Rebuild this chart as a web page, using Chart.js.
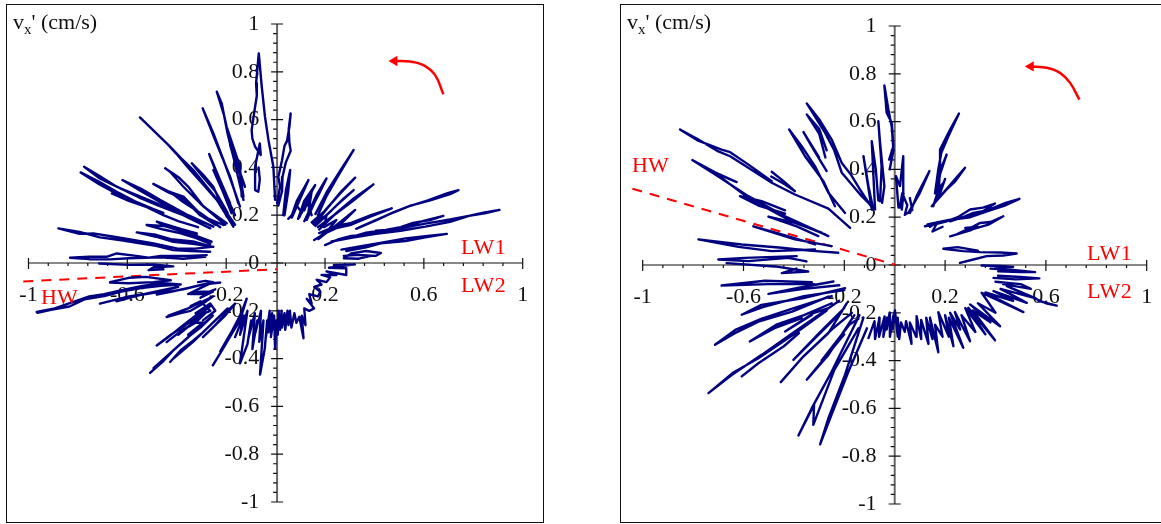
<!DOCTYPE html>
<html>
<head>
<meta charset="utf-8">
<script src="https://cdn.jsdelivr.net/npm/chart.js@4/dist/chart.umd.min.js"></script>
<style>
  html, body { margin: 0; padding: 0; background: #fff; overflow: hidden; }
  #page { position: relative; width: 1161px; height: 524px; overflow: hidden; }
  canvas { position: absolute; top: 0; }
  .box { position: absolute; top: 4px; height: 517px; border: 1.5px solid #111; box-sizing: content-box; }
  .note { position: absolute; font-family: "Liberation Serif", serif; font-size: 22px; line-height: 22px; color: #f00; white-space: nowrap; }
  .lw { letter-spacing: 0.6px; }
  .ylabel { position: absolute; font-family: "Liberation Serif", serif; font-size: 22px; line-height: 22px; color: #111; white-space: nowrap; }
  .ylabel sub { font-size: 15px; line-height: 0; }
</style>
</head>
<body>
<div id="page">
  <div class="box" style="left:6px;width:536px"></div>
  <div class="box" style="left:620px;width:600px"></div>
  <canvas id="left" width="580" height="524" style="left:0;width:580px;height:524px"></canvas>
  <canvas id="right" width="640" height="524" style="left:600px;width:640px;height:524px"></canvas>
  <div class="ylabel" style="left:13px;top:11px">v<sub>x</sub>' (cm/s)</div>
  <div class="ylabel" style="left:627px;top:11px">v<sub>x</sub>' (cm/s)</div>
  <div class="note lw" style="left:461px;top:236px">LW1</div>
  <div class="note lw" style="left:461px;top:274px">LW2</div>
  <div class="note" style="left:41px;top:286px">HW</div>
  <div class="note lw" style="left:1087px;top:242px">LW1</div>
  <div class="note lw" style="left:1087px;top:280px">LW2</div>
  <div class="note" style="left:632px;top:154px">HW</div>
</div>
<script>
// tick positions and labels
const xMajor = [-1, -0.6, -0.2, 0.2, 0.6, 1];
const xMinorStep = 0.08;
const yMajor = [-1, -0.8, -0.6, -0.4, -0.2, 0, 0.2, 0.4, 0.6, 0.8, 1];
const yMinorStep = 0.04;

// left panel, strands of the trace, each as [x, y] points
const strandsLeft = [
  [[.27,.03],[.33,.034],[.40,.03],[.42,.042],[.36,.05],[.30,.04],[.27,.02],[.33,.018],[.38,.03]],
  [[.26,.056],[.34,.07],[.44,.088],[.52,.103],[.60,.112],[.687,.122],[.60,.107],[.52,.092],[.42,.082],[.36,.066],[.28,.05]],
  [[.194,.075],[.25,.1],[.30,.113],[.36,.118],[.42,.13],[.50,.145],[.60,.165],[.70,.182],[.77,.196],[.84,.208],[.90,.222],[.84,.212],[.78,.198],[.70,.172],[.60,.152],[.50,.135],[.40,.122],[.30,.105],[.22,.09]],
  [[.29,.105],[.36,.127],[.44,.138],[.50,.15],[.55,.168],[.62,.18],[.673,.197],[.60,.178],[.54,.16],[.50,.143],[.40,.135]],
  [[.32,.143],[.40,.178],[.47,.212],[.54,.24],[.62,.262],[.70,.288],[.734,.305],[.69,.292],[.61,.262],[.53,.236],[.46,.207],[.39,.175],[.33,.148]],
  [[.17,.125],[.24,.155],[.30,.168],[.38,.2],[.464,.229],[.38,.195],[.30,.16],[.24,.146],[.18,.118]],
  [[.167,.1],[.21,.135],[.26,.175],[.316,.222],[.26,.166],[.2,.128],[.15,.096]],
  [[.17,.14],[.24,.21],[.31,.27],[.39,.329],[.31,.262],[.23,.2],[.165,.15]],
  [[.155,.155],[.21,.21],[.27,.27],[.31,.305],[.25,.25],[.2,.2],[.145,.165]],
  [[.15,.16],[.2,.225],[.26,.3],[.316,.357],[.25,.285],[.19,.215],[.14,.17]],
  [[.165,.2],[.2,.28],[.25,.37],[.31,.473],[.255,.385],[.2,.295],[.155,.205]],
  [[.12,.18],[.15,.25],[.17,.29],[.2,.354],[.16,.285],[.14,.24],[.11,.175]],
  [[.09,.19],[.125,.27],[.154,.326],[.11,.26],[.085,.185]],
  [[.06,.19],[.09,.26],[.127,.347],[.08,.26],[.06,.2],[.045,.185]],
  [[.03,.2],[.045,.3],[.053,.389],[.035,.3],[.025,.2]],
  [[.06,.2],[.08,.24],[.1,.21],[.12,.26],[.14,.2]],
  [[.11,.22],[.14,.3],[.125,.2]],
  [[.17,.17],[.2,.2],[.19,.15],[.24,.18],[.2,.13]],
  [[.0,.25],[.012,.32],[.005,.36],[.02,.43],[.03,.49],[.04,.51],[.05,.57],[.055,.626],[.047,.56],[.05,.5],[.055,.47],[.035,.42],[.022,.36],[.02,.3],[.005,.24]],
  [[-.008,.264],[-.015,.403],[-.035,.515],[-.049,.612],[-.062,.738],[-.074,.877],[-.085,.752],[-.082,.7],[-.089,.654],[-.103,.556],[-.1,.52],[-.089,.487],[-.066,.452],[-.07,.5],[-.089,.403],[-.089,.305],[-.076,.298],[-.07,.35],[-.075,.4]],
  [[-.13,.319],[-.16,.41],[-.19,.494],[-.17,.42],[-.15,.375],[-.136,.278]],
  [[-.136,.264],[-.177,.445],[-.2,.54],[-.224,.668],[-.244,.717],[-.215,.62],[-.204,.57],[-.15,.403],[-.143,.278]],
  [[-.15,.236],[-.185,.34],[-.217,.431],[-.258,.543],[-.301,.647],[-.251,.515],[-.19,.361],[-.157,.25]],
  [[-.19,.25],[-.231,.347],[-.275,.456],[-.224,.319],[-.19,.236]],
  [[-.184,.208],[-.22,.3],[-.258,.389],[-.204,.278],[-.17,.2]],
  [[-.177,.152],[-.244,.264],[-.3,.33],[-.352,.389],[-.41,.46],[-.447,.501],[-.555,.609],[-.433,.487],[-.39,.44],[-.339,.389],[-.231,.25],[-.17,.16]],
  [[-.204,.194],[-.258,.319],[-.3,.37],[-.345,.417],[-.3,.36],[-.25,.3],[-.2,.21]],
  [[-.204,.166],[-.298,.236],[-.36,.32],[-.4,.36],[-.453,.396],[-.433,.382],[-.38,.32],[-.312,.25],[-.21,.16]],
  [[-.258,.166],[-.32,.215],[-.379,.278],[-.44,.3],[-.501,.331],[-.44,.295],[-.379,.27],[-.31,.2],[-.25,.16]],
  [[-.217,.159],[-.312,.2],[-.37,.26],[-.433,.298],[-.38,.255],[-.312,.21],[-.23,.15]],
  [[-.258,.152],[-.36,.2],[-.474,.264],[-.55,.31],[-.626,.347],[-.55,.3],[-.474,.255],[-.36,.19],[-.27,.145]],
  [[-.298,.166],[-.4,.21],[-.487,.25],[-.57,.285],[-.649,.319],[-.72,.365],[-.781,.403],[-.72,.355],[-.636,.313],[-.56,.275],[-.48,.24],[-.38,.2],[-.3,.16]],
  [[-.32,.15],[-.4,.175],[-.46,.2],[-.55,.245],[-.649,.298],[-.72,.34],[-.795,.379],[-.72,.33],[-.649,.29],[-.58,.26],[-.5,.225],[-.46,.21]],
  [[-.669,.291],[-.6,.26],[-.53,.235],[-.47,.21]],
  [[-.325,.124],[-.38,.14],[-.487,.173],[-.44,.15],[-.38,.13],[-.325,.115]],
  [[-.27,.08],[-.33,.105],[-.393,.125],[-.46,.14],[-.528,.159],[-.46,.155],[-.393,.138],[-.33,.115],[-.265,.089]],
  [[-.258,.068],[-.34,.08],[-.42,.089],[-.49,.11],[-.568,.128],[-.49,.118],[-.43,.1],[-.34,.09],[-.265,.068]],
  [[-.271,.047],[-.35,.05],[-.42,.054],[-.49,.072],[-.555,.082],[-.63,.095],[-.717,.107],[-.8,.13],[-.885,.145],[-.8,.122],[-.744,.124],[-.66,.11],[-.582,.096],[-.5,.082],[-.406,.061],[-.33,.06],[-.265,.068]],
  [[-.285,.033],[-.36,.03],[-.42,.029],[-.47,.03],[-.52,.022],[-.57,.03],[-.649,.04],[-.69,.026],[-.76,.026],[-.838,.022],[-.76,.016],[-.676,.015],[-.6,.02],[-.474,.024],[-.38,.018],[-.291,.026]],
  [[-.72,-.002],[-.6,-.008],[-.5,-.006],[-.42,-.014],[-.5,-.018],[-.52,-.03],[-.46,-.026]],
  [[-.676,-.08],[-.6,-.062],[-.53,-.058],[-.43,-.072],[-.5,-.08],[-.6,-.085],[-.676,-.082]],
  [[-.973,-.205],[-.9,-.19],[-.83,-.165],[-.76,-.14],[-.7,-.13],[-.62,-.112],[-.54,-.095],[-.46,-.085],[-.39,-.09],[-.47,-.095],[-.55,-.105],[-.63,-.12],[-.7,-.138],[-.78,-.152],[-.84,-.182],[-.91,-.195],[-.97,-.208]],
  [[-.717,-.17],[-.66,-.155],[-.6,-.14],[-.54,-.13],[-.47,-.115],[-.4,-.1],[-.47,-.12],[-.56,-.135],[-.65,-.16]],
  [[-.487,-.132],[-.42,-.118],[-.34,-.1],[-.28,-.085],[-.23,-.082],[-.3,-.09],[-.38,-.11],[-.46,-.125]],
  [[-.32,-.08],[-.29,-.075],[-.26,-.08],[-.3,-.1],[-.36,-.13],[-.31,-.12],[-.26,-.12],[-.31,-.145]],
  [[-.35,-.13],[-.3,-.13],[-.25,-.11]],
  [[-.447,-.226],[-.39,-.21],[-.35,-.2],[-.3,-.17],[-.26,-.14],[-.3,-.16],[-.36,-.19],[-.44,-.22]],
  [[-.35,-.18],[-.31,-.16],[-.27,-.2],[-.34,-.23],[-.3,-.22],[-.35,-.25]],
  [[-.487,-.345],[-.43,-.3],[-.37,-.26],[-.33,-.23],[-.27,-.18],[-.33,-.22],[-.38,-.26],[-.44,-.31],[-.48,-.34]],
  [[-.447,-.331],[-.39,-.285],[-.33,-.25],[-.29,-.21],[-.35,-.26]],
  [[-.4,-.3],[-.34,-.25],[-.3,-.25],[-.36,-.3]],
  [[-.33,-.21],[-.27,-.17],[-.25,-.2],[-.3,-.24]],
  [[-.514,-.46],[-.46,-.41],[-.42,-.366],[-.36,-.31],[-.31,-.27],[-.26,-.22],[-.31,-.265],[-.37,-.32],[-.43,-.375],[-.5,-.44]],
  [[-.433,-.414],[-.39,-.365],[-.34,-.325],[-.3,-.29],[-.26,-.25],[-.2,-.19],[-.27,-.26],[-.34,-.33],[-.42,-.4]],
  [[-.26,-.428],[-.22,-.36],[-.18,-.29],[-.15,-.24],[-.123,-.149],[-.145,-.21],[-.18,-.28],[-.23,-.37]],
  [[-.3,-.31],[-.25,-.26],[-.2,-.2],[-.17,-.17],[-.21,-.22],[-.27,-.28]],
  [[-.17,-.31],[-.135,-.22],[-.15,-.3],[-.12,-.2],[-.15,-.42],[-.12,-.34],[-.105,-.24],[-.115,-.31],[-.09,-.21],[-.1,-.36],[-.08,-.24],[-.09,-.3],[-.065,-.2],[-.072,-.33],[-.055,-.24],[-.069,-.467],[-.05,-.36],[-.04,-.24],[-.045,-.31],[-.03,-.2],[-.034,-.29],[-.02,-.21],[-.025,-.31],[-.012,-.22],[-.008,-.36],[-.002,-.24],[.003,-.3],[.006,-.2],[.012,-.28],[.018,-.2],[.02,-.27],[.03,-.21],[.033,-.28],[.042,-.2],[.046,-.26],[.052,-.2],[.058,-.27],[.07,-.21],[.078,-.25],[.09,-.225],[.107,-.315],[.1,-.22],[.115,-.26],[.11,-.19],[.13,-.2],[.15,-.19],[.12,-.15],[.14,-.17],[.13,-.13],[.165,-.14],[.175,-.12],[.15,-.1],[.18,-.09],[.16,-.07],[.2,-.08],[.215,-.06],[.18,-.05],[.24,-.05],[.2,-.035],[.28,-.05],[.28,-.022],[.21,-.02],[.315,-.006],[.23,-.008]]
];

// right panel strands
const strandsRight = [
  [[.259,.009],[.3,.02],[.365,.037],[.43,.04],[.484,.048],[.42,.052],[.339,.054],[.272,.058],[.193,.068],[.25,.075],[.33,.06]],
  [[.259,.135],[.31,.15],[.372,.169],[.431,.204],[.38,.18],[.339,.176],[.3,.155],[.25,.13]],
  [[.22,.12],[.3,.145],[.33,.16],[.28,.155]],
  [[.12,.162],[.16,.17],[.206,.183],[.25,.2],[.299,.232],[.35,.24],[.398,.257],[.35,.225],[.312,.218],[.26,.195],[.22,.19],[.13,.17]],
  [[.14,.16],[.17,.18],[.15,.14],[.19,.16]],
  [[.22,.183],[.3,.21],[.392,.239],[.44,.26],[.495,.277],[.44,.25],[.378,.229],[.3,.2],[.23,.19]],
  [[.147,.246],[.193,.302],[.24,.36],[.279,.407],[.24,.35],[.206,.316],[.153,.253]],
  [[.167,.3],[.18,.38],[.206,.462],[.19,.42],[.173,.386],[.16,.3]],
  [[.16,.3],[.19,.34],[.17,.28],[.2,.36],[.18,.3]],
  [[.153,.246],[.175,.32],[.18,.4],[.18,.483],[.22,.567],[.255,.634],[.213,.539],[.185,.47],[.173,.4],[.16,.3]],
  [[.054,.218],[.1,.302],[.138,.393],[.087,.288],[.061,.218]],
  [[.02,.24],[.03,.3],[.05,.25],[.04,.21],[.07,.23],[.06,.28]],
  [[.028,.232],[.035,.3],[.034,.455],[.021,.33],[.005,.372],[.015,.24]],
  [[-.022,.441],[-.005,.497],[-.012,.595],[-.032,.637],[-.041,.751],[-.025,.651],[-.012,.58],[-.005,.48],[-.02,.4]],
  [[-.058,.267],[-.052,.413],[-.065,.602],[-.058,.511],[-.041,.33],[-.05,.26]],
  [[-.078,.232],[-.085,.386],[-.091,.518],[-.075,.4],[-.065,.27]],
  [[-.091,.232],[-.124,.455],[-.104,.33],[-.085,.232]],
  [[-.085,.232],[-.138,.316],[-.175,.38],[-.21,.427],[-.25,.525],[-.3,.61],[-.349,.676],[-.276,.553],[-.24,.48],[-.21,.386],[-.131,.288],[-.085,.24]],
  [[-.275,.45],[-.3,.55],[-.349,.63],[-.3,.57],[-.27,.48]],
  [[-.197,.218],[-.263,.302],[-.316,.413],[-.369,.497],[-.419,.567],[-.356,.455],[-.283,.351],[-.237,.246]],
  [[-.27,.393],[-.32,.48],[-.362,.556],[-.3,.45]],
  [[-.177,.155],[-.263,.236],[-.396,.295],[-.488,.344],[-.581,.407],[-.653,.455],[-.7,.475],[-.779,.525],[-.852,.567],[-.78,.52],[-.687,.483],[-.653,.472],[-.58,.42],[-.488,.351]],
  [[-.488,.39],[-.44,.35],[-.396,.309],[-.435,.337],[-.49,.37]],
  [[-.263,.121],[-.435,.204],[-.581,.288],[-.7,.37],[-.803,.439],[-.713,.388],[-.627,.347],[-.713,.385],[-.581,.281],[-.422,.19],[-.276,.128]],
  [[-.435,.229],[-.528,.267],[-.614,.288],[-.541,.249],[-.435,.215]],
  [[-.29,.135],[-.396,.176],[-.501,.202],[-.389,.162],[-.303,.121]],
  [[-.25,.079],[-.396,.107],[-.561,.162],[-.448,.128],[-.316,.086]],
  [[-.224,.051],[-.34,.06],[-.448,.072],[-.607,.086],[-.779,.107],[-.62,.076],[-.488,.058],[-.316,.065]],
  [[-.389,.037],[-.594,.03],[-.7,.023],[-.581,.016],[-.422,.03],[-.35,.015]],
  [[-.667,.008],[-.475,-.006],[-.343,-.027],[-.448,-.034],[-.39,-.015]],
  [[-.329,-.072],[-.515,-.066],[-.687,-.086],[-.5,-.08],[-.32,-.08]],
  [[-.243,-.069],[-.38,-.095],[-.501,-.121],[-.36,-.1],[-.22,-.085]],
  [[-.197,-.097],[-.366,-.139],[-.529,-.167],[-.607,-.208],[-.52,-.175],[-.36,-.13],[-.2,-.105]],
  [[-.263,-.132],[-.407,-.195],[-.541,-.237],[-.634,-.285],[-.713,-.334],[-.63,-.27],[-.53,-.225],[-.4,-.18],[-.25,-.13]],
  [[-.369,-.222],[-.477,-.264],[-.575,-.32],[-.47,-.25],[-.36,-.21],[-.25,-.16]],
  [[-.329,-.209],[-.435,-.278],[-.32,-.2],[-.263,-.181]],
  [[-.22,-.15],[-.263,-.181],[-.396,-.278],[-.528,-.376],[-.647,-.46],[-.739,-.536],[-.64,-.45],[-.541,-.39],[-.4,-.29],[-.27,-.19]],
  [[-.607,-.466],[-.541,-.411],[-.44,-.34],[-.38,-.285]],
  [[-.21,-.195],[-.303,-.292],[-.402,-.397],[-.295,-.28],[-.2,-.18]],
  [[-.19,-.16],[-.263,-.285],[-.369,-.39],[-.452,-.49],[-.36,-.38],[-.25,-.27],[-.17,-.2]],
  [[-.16,-.21],[-.263,-.376],[-.349,-.48],[-.255,-.36],[-.2,-.29],[-.29,-.4],[-.18,-.25],[-.144,-.225]],
  [[-.14,-.21],[-.25,-.446],[-.329,-.599],[-.382,-.713],[-.32,-.585],[-.323,-.669],[-.24,-.44],[-.144,-.265]],
  [[-.124,-.22],[-.197,-.459],[-.263,-.641],[-.296,-.75],[-.25,-.625],[-.185,-.45],[-.11,-.265]],
  [[-.104,-.306],[-.08,-.235],[-.078,-.31],[-.06,-.22],[-.062,-.3],[-.04,-.215],[-.045,-.3],[-.03,-.22],[-.032,-.27],[-.02,-.2],[-.019,-.3],[-.005,-.21],[-.008,-.27],[.001,-.19],[.012,-.3],[.012,-.22],[.018,-.31],[.025,-.24],[.04,-.28],[.045,-.235],[.067,-.33],[.06,-.24],[.085,-.3],[.087,-.214],[.105,-.31],[.105,-.23],[.134,-.33],[.125,-.22],[.15,-.31],[.14,-.22],[.173,-.365],[.16,-.25],[.19,-.3],[.173,-.197],[.215,-.3],[.2,-.21],[.233,-.34],[.215,-.22],[.272,-.346],[.22,-.2],[.26,-.27],[.239,-.197],[.299,-.319],[.265,-.21],[.32,-.28],[.28,-.18],[.36,-.29],[.292,-.179],[.398,-.315],[.31,-.19],[.38,-.24],[.299,-.165],[.418,-.256],[.33,-.16],[.4,-.2],[.345,-.116],[.511,-.197],[.38,-.13],[.49,-.186],[.36,-.115],[.47,-.15],[.392,-.109],[.524,-.158],[.42,-.1],[.56,-.14],[.445,-.088],[.6,-.16],[.643,-.17],[.57,-.15]],
  [[.392,-.054],[.48,-.06],[.574,-.056],[.5,-.05],[.41,-.045]],
  [[.411,-.026],[.5,-.03],[.557,-.03],[.46,-.02],[.38,-.015]],
  [[.345,-.002],[.42,-.004],[.47,-.008],[.4,-.012]],
  [[.4,-.07],[.5,-.08],[.54,-.1],[.43,-.08]]
];

// red dashed HW line and the rotation arrow
const hwLeftX = [-1.027, -0.001];
const hwLeftY = [-0.077, -0.026];
const hwRightX = [-1.041, 0.001];
const hwRightY = [0.319, 0.001];
const arrowLeftX = [0.673, 0.639, 0.592, 0.538, 0.475];
const arrowLeftY = [0.706, 0.787, 0.828, 0.843, 0.845];
const arrowRightX = [0.733, 0.696, 0.656, 0.603, 0.54];
const arrowRightY = [0.692, 0.762, 0.804, 0.825, 0.831];

const NAVY = '#000080';
const near = (v, list) => list.find(m => Math.abs(m - v) < 1e-6);

// axes cross at zero, with ticks on both sides, so they are drawn from the scales here
function crossAxes(axisX) {
  return {
    id: 'crossAxes',
    beforeDatasetsDraw(chart) {
      const { x: sx, y: sy } = chart.scales;
      const c = chart.ctx, x0 = sx.getPixelForValue(axisX), y0 = sy.getPixelForValue(0);
      c.save();
      c.strokeStyle = '#666';
      c.lineWidth = 2;
      c.beginPath(); c.moveTo(x0, sy.getPixelForValue(1)); c.lineTo(x0, sy.getPixelForValue(-1)); c.stroke();
      c.strokeStyle = '#111';
      c.lineWidth = 1.2;
      c.beginPath(); c.moveTo(sx.getPixelForValue(-1), y0); c.lineTo(sx.getPixelForValue(1), y0); c.stroke();
      c.beginPath();
      for (let i = 0; i <= 25; i++) {
        const v = -1 + i * xMinorStep, px = sx.getPixelForValue(v);
        const major = near(v, xMajor) !== undefined;
        c.moveTo(px, y0 - (major ? 5 : 0));
        c.lineTo(px, y0 + (major ? 6 : 3));
      }
      for (let i = 0; i <= 50; i++) {
        const v = -1 + i * yMinorStep, py = sy.getPixelForValue(v);
        const major = near(v, yMajor) !== undefined;
        c.moveTo(x0 - (major ? 6 : 4), py);
        c.lineTo(x0 + (major ? 6 : 0), py);
      }
      c.stroke();
      c.restore();
    }
  };
}

function makePanel(id, strands, hwX, hwY, arrX, arrY, padding, axisX) {
  // the left plot's vertical axis sits slightly right of x=0, marks were read relative to it
  const pt = (x, y) => ({ x: x + axisX, y: y });
  const traceData = strands.flatMap(s => [...s.map(p => pt(p[0], p[1])), { x: NaN, y: NaN }]);
  new Chart(document.getElementById(id), {
    type: 'scatter',
    data: {
      datasets: [
        { data: traceData, showLine: true, spanGaps: false, borderColor: NAVY, borderWidth: 2.4, borderJoinStyle: 'round', borderCapStyle: 'round', pointRadius: 0, clip: false },
        { data: hwX.map((x, i) => pt(x, hwY[i])), showLine: true, borderColor: '#f00', borderWidth: 2, borderDash: [10, 8], pointRadius: 0, clip: false },
        {
          data: arrX.map((x, i) => pt(x, arrY[i])), showLine: true, borderColor: '#f00', borderWidth: 2.5, tension: 0.4, clip: false,
          pointStyle: 'triangle', pointRotation: -90, backgroundColor: '#f00', pointBorderWidth: 0,
          pointRadius: ctx => ctx.dataIndex === arrX.length - 1 ? 6 : 0
        }
      ]
    },
    options: {
      responsive: false,
      animation: false,
      layout: { padding: padding, autoPadding: false },
      plugins: { legend: { display: false }, tooltip: { enabled: false } },
      scales: {
        x: {
          type: 'linear', min: -1, max: 1, position: { y: 0 },
          afterBuildTicks: axis => { axis.ticks = xMajor.map(v => ({ value: v })); },
          grid: { display: false, drawTicks: false }, border: { display: false },
          ticks: {
            autoSkip: false, maxRotation: 0, padding: 19, color: '#111',
            font: { family: '"Liberation Serif"', size: 22 }, callback: v => String(v)
          }
        },
        y: {
          type: 'linear', min: -1, max: 1, position: { x: axisX - 0.072 },
          afterBuildTicks: axis => { axis.ticks = yMajor.map(v => ({ value: v })); },
          grid: { display: false, drawTicks: false }, border: { display: false },
          ticks: {
            autoSkip: false, padding: 0, color: '#111',
            font: { family: '"Liberation Serif"', size: 22 }, callback: v => String(v)
          }
        }
      }
    },
    plugins: [crossAxes(axisX)]
  });
}

makePanel('left', strandsLeft, hwLeftX, hwLeftY, arrowLeftX, arrowLeftY, { left: 28.5, right: 57.3, top: 24, bottom: 22 }, 0.006);
makePanel('right', strandsRight, hwRightX, hwRightY, arrowRightX, arrowRightY, { left: 42.7, right: 93.3, top: 26, bottom: 20 }, 0);
</script>
</body>
</html>
